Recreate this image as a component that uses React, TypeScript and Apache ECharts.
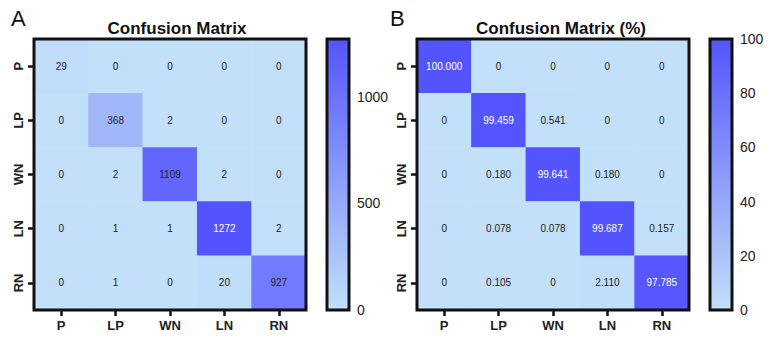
import React, { useEffect, useRef } from "react";
import * as echarts from "echarts";

const classes = ["P", "LP", "WN", "LN", "RN"];
const countsMatrix: number[][] = [
  [29, 0, 0, 0, 0],
  [0, 368, 2, 0, 0],
  [0, 2, 1109, 2, 0],
  [0, 1, 1, 1272, 2],
  [0, 1, 0, 20, 927],
];
const percentMatrix: number[][] = [
  [100, 0, 0, 0, 0],
  [0, 99.459, 0.541, 0, 0],
  [0, 0.18, 99.641, 0.18, 0],
  [0, 0.078, 0.078, 99.687, 0.157],
  [0, 0.105, 0, 2.11, 97.785],
];
const countsMax = 1272;
const percentMax = 100;
const countsInterval = 500;
const percentInterval = 20;
const titleA = "Confusion Matrix";
const titleB = "Confusion Matrix (%)";

const LOW = "#c2e0f9";
const HIGH = "#5454fe";
const FONT = "'Liberation Sans', Arial, Helvetica, sans-serif";

function buildData(m: number[][], max: number, fmt: (v: number) => string) {
  const out: any[] = [];
  m.forEach((row, r) =>
    row.forEach((v, c) => {
      out.push({
        value: [c, r, v],
        label: { color: v / max > 0.9 ? "#ffffff" : "#222222", formatter: fmt(v) },
      });
    })
  );
  return out;
}

export default function App() {
  const ref = useRef<HTMLDivElement>(null);
  useEffect(() => {
    const chart = echarts.init(ref.current!, null, { renderer: "svg" });
    const grids = [
      { left: 34, top: 39, width: 272, height: 271 },
      { left: 417, top: 39, width: 272, height: 271 },
      { left: 327, top: 39, width: 22, height: 271 },
      { left: 710, top: 39, width: 22, height: 271 },
    ].map((g) => ({
      ...g,
      show: true,
      z: 10,
      backgroundColor: "transparent",
      borderColor: "#111",
      borderWidth: 3,
    }));

    const catX = (gi: number) => ({
      type: "category",
      gridIndex: gi,
      data: classes,
      axisLine: { show: false },
      axisTick: { show: true, alignWithLabel: true, length: 6, lineStyle: { color: "#111", width: 2.5 } },
      axisLabel: { margin: 9, fontFamily: FONT, fontWeight: "bold", fontSize: 13, color: "#222" },
      splitLine: { show: false },
    });
    const catY = (gi: number) => ({
      type: "category",
      gridIndex: gi,
      data: classes,
      inverse: true,
      axisLine: { show: false },
      axisTick: { show: true, alignWithLabel: true, length: 6, lineStyle: { color: "#111", width: 2.5 } },
      axisLabel: { rotate: 90, margin: 9, fontFamily: FONT, fontWeight: "bold", fontSize: 13, color: "#222" },
      splitLine: { show: false },
    });
    const cbX = (gi: number) => ({
      type: "category",
      gridIndex: gi,
      data: ["c"],
      show: false,
    });
    const cbY = (gi: number, max: number, interval: number, pos: string, labels: boolean, showMax: boolean) => ({
      type: "value",
      gridIndex: gi,
      min: 0,
      max,
      interval,
      position: pos,
      axisLine: { show: false },
      axisTick: { show: true, inside: true, length: 4, lineStyle: { color: "#111", width: 1.5 } },
      axisLabel: {
        show: labels,
        margin: 8,
        fontFamily: FONT,
        fontSize: 14,
        color: "#222",
        showMaxLabel: showMax,
        formatter: (v: number) => String(v),
      },
      splitLine: { show: false },
    });

    const grad = new echarts.graphic.LinearGradient(0, 0, 0, 1, [
      { offset: 0, color: HIGH },
      { offset: 1, color: LOW },
    ]);

    const cellLabel = { show: true, fontFamily: FONT, fontSize: 10 };
    const titleStyle = { fontFamily: FONT, fontWeight: "bold", fontSize: 17, color: "#111" };

    chart.setOption({
      animation: false,
      title: [
        { text: titleA, left: 172, top: 15, textAlign: "center", textStyle: titleStyle },
        { text: titleB, left: 556, top: 15, textAlign: "center", textStyle: titleStyle },
        { text: "A", left: 6, top: 2, textStyle: { fontFamily: FONT, fontWeight: "normal", fontSize: 22, color: "#111" } },
        { text: "B", left: 385, top: 2, textStyle: { fontFamily: FONT, fontWeight: "normal", fontSize: 22, color: "#111" } },
      ],
      grid: grids,
      xAxis: [catX(0), catX(1), cbX(2), cbX(3)],
      yAxis: [
        catY(0),
        catY(1),
        cbY(2, countsMax, countsInterval, "left", false, false),
        cbY(2, countsMax, countsInterval, "right", true, false),
        cbY(3, percentMax, percentInterval, "left", false, true),
        cbY(3, percentMax, percentInterval, "right", true, true),
      ],
      visualMap: [
        { type: "continuous", show: false, seriesIndex: 0, min: 0, max: countsMax, inRange: { color: [LOW, HIGH] } },
        { type: "continuous", show: false, seriesIndex: 1, min: 0, max: percentMax, inRange: { color: [LOW, HIGH] } },
      ],
      series: [
        {
          type: "heatmap",
          xAxisIndex: 0,
          yAxisIndex: 0,
          data: buildData(countsMatrix, countsMax, (v) => String(v)),
          label: cellLabel,
        },
        {
          type: "heatmap",
          xAxisIndex: 1,
          yAxisIndex: 1,
          data: buildData(percentMatrix, percentMax, (v) => (v === 0 ? "0" : v.toFixed(3))),
          label: cellLabel,
        },
        {
          type: "bar",
          xAxisIndex: 2,
          yAxisIndex: 3,
          data: [countsMax],
          barWidth: "100%",
          itemStyle: { color: grad },
          silent: true,
        },
        {
          type: "bar",
          xAxisIndex: 3,
          yAxisIndex: 5,
          data: [percentMax],
          barWidth: "100%",
          itemStyle: { color: grad },
          silent: true,
        },
      ],
    });
    return () => chart.dispose();
  }, []);
  return <div ref={ref} style={{ width: 768, height: 340, position: "absolute", left: 0, top: 0, background: "#fff" }} />;
}
